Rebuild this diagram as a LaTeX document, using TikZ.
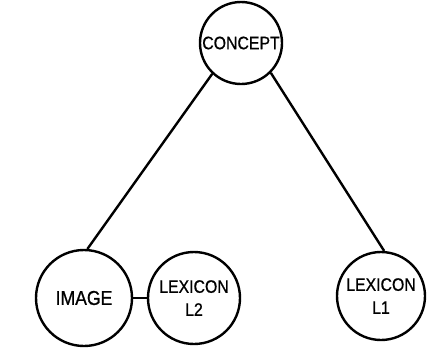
\documentclass[tikz,border=0pt]{standalone}
\usepackage{fontspec}
\setmainfont{Liberation Sans}[FakeStretch=0.88,FakeBold=0.8]
\begin{document}
\begin{tikzpicture}[x=1pt,y=-1pt,
  bubble/.style={draw, line width=2.4pt, circle, inner sep=0pt, align=center,
    font=\fontsize{18}{23}\selectfont},
  link/.style={line width=2.4pt}]
\useasboundingbox (0,0) rectangle (445,360);
\node[bubble, minimum size=82pt] (concept) at (241,43) {CONCEPT};
\node[bubble, minimum size=96pt, font=\fontsize{20}{23}\selectfont] (image) at (84,298) {IMAGE};
\node[bubble, minimum size=92pt] (lex2) at (194,298) {LEXICON\\L2};
\node[bubble, minimum size=88pt] (lex1) at (381,296) {LEXICON\\L1};
\draw[link] (concept.227) -- (image.86);
\draw[link] (concept.-45) -- (lex1.86);
\draw[link] (image.east) -- (lex2.west);
\end{tikzpicture}
\end{document}
